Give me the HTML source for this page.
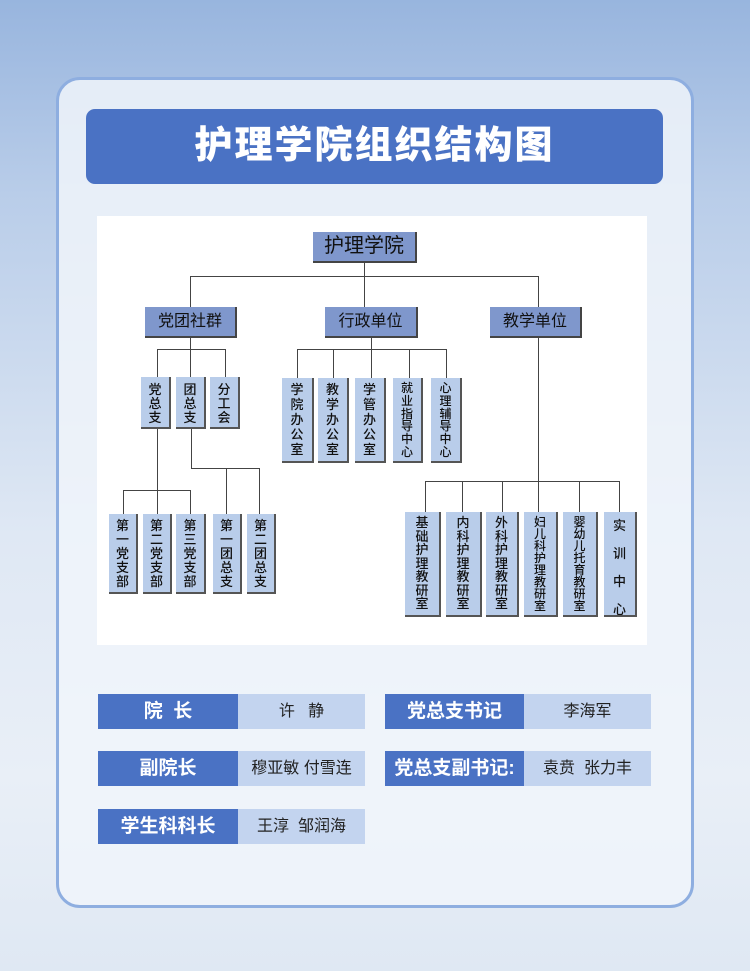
<!DOCTYPE html>
<html><head><meta charset="utf-8"><style>
*{margin:0;padding:0;box-sizing:border-box}
body{width:750px;height:971px;position:relative;overflow:hidden;font-family:"Liberation Sans","Noto Sans CJK SC",sans-serif;background:linear-gradient(180deg,#98b5de 0%,#b9cde9 20%,#dfe8f4 55%,#e9eff7 80%,#dfe8f3 100%)}
.card{position:absolute;left:56px;top:77px;width:638px;height:831px;border:3px solid #8eaee0;border-radius:24px;background:rgba(240,244,250,0.85)}
.title{position:absolute;left:86px;top:109px;width:577px;height:75px;background:#4a72c4;border-radius:9px;color:#fff;font-size:38px;font-weight:900;text-align:center;line-height:75px;letter-spacing:2px}
.panel{position:absolute;left:97px;top:216px;width:550px;height:429px;background:#fff}
.b{position:absolute;background:#b9cdea;border-right:2px solid #555;border-bottom:2px solid #555;color:#111;font-size:13px;text-align:center;line-height:14px;padding-top:4px;font-weight:500}
.d{position:absolute;background:#7f97cc;border-right:2px solid #444;border-bottom:2px solid #444;color:#111;text-align:center;font-size:16px}
.h{position:absolute;height:1px;background:#444}
.v{position:absolute;width:1px;background:#444}
.lab{position:absolute;background:#4a72c4;color:#fff;font-weight:bold;font-size:19px;text-align:center}
.val{position:absolute;background:#c3d4ef;color:#222;font-size:16px;text-align:center}
</style></head><body>
<div class="card"></div>
<div class="title">护理学院组织结构图</div>
<div class="panel"></div>

<div class="d" style="left:313px;top:232px;width:104px;height:31px;font-size:20px;line-height:29px">护理学院</div>
<div class="v" style="left:364px;top:263px;height:44px"></div>
<div class="h" style="left:190px;top:276px;width:349px"></div>
<div class="v" style="left:190px;top:276px;height:31px"></div>
<div class="v" style="left:538px;top:276px;height:31px"></div>
<div class="d" style="left:145px;top:307px;width:92px;height:31px;line-height:29px">党团社群</div>
<div class="d" style="left:325px;top:307px;width:93px;height:31px;line-height:29px">行政单位</div>
<div class="d" style="left:490px;top:307px;width:92px;height:31px;line-height:29px">教学单位</div>

<div class="v" style="left:190px;top:338px;height:39px"></div>
<div class="h" style="left:157px;top:349px;width:69px"></div>
<div class="v" style="left:157px;top:349px;height:28px"></div>
<div class="v" style="left:225px;top:349px;height:28px"></div>
<div class="b" style="left:141px;top:377px;width:30px;height:52px;padding-top:6px">党<br>总<br>支</div>
<div class="b" style="left:176px;top:377px;width:30px;height:52px;padding-top:6px">团<br>总<br>支</div>
<div class="b" style="left:210px;top:377px;width:30px;height:52px;padding-top:6px">分<br>工<br>会</div>

<div class="v" style="left:371px;top:338px;height:40px"></div>
<div class="h" style="left:297px;top:349px;width:150px"></div>
<div class="v" style="left:297px;top:349px;height:29px"></div>
<div class="v" style="left:333px;top:349px;height:29px"></div>
<div class="v" style="left:409px;top:349px;height:29px"></div>
<div class="v" style="left:446px;top:349px;height:29px"></div>
<div class="b" style="left:282px;top:378px;width:32px;height:85px;line-height:15px">学<br>院<br>办<br>公<br>室</div>
<div class="b" style="left:318px;top:378px;width:31px;height:85px;line-height:15px">教<br>学<br>办<br>公<br>室</div>
<div class="b" style="left:355px;top:378px;width:31px;height:85px;line-height:15px">学<br>管<br>办<br>公<br>室</div>
<div class="b" style="left:393px;top:378px;width:30px;height:85px;line-height:12.8px;font-size:12px">就<br>业<br>指<br>导<br>中<br>心</div>
<div class="b" style="left:431px;top:378px;width:31px;height:85px;line-height:12.8px;font-size:12px">心<br>理<br>辅<br>导<br>中<br>心</div>

<div class="v" style="left:157px;top:429px;height:85px"></div>
<div class="h" style="left:123px;top:490px;width:68px"></div>
<div class="v" style="left:123px;top:490px;height:24px"></div>
<div class="v" style="left:190px;top:490px;height:24px"></div>
<div class="v" style="left:191px;top:429px;height:39px"></div>
<div class="h" style="left:191px;top:468px;width:69px"></div>
<div class="v" style="left:226px;top:468px;height:46px"></div>
<div class="v" style="left:259px;top:468px;height:46px"></div>
<div class="b" style="left:109px;top:514px;width:29px;height:80px;padding-top:5px">第<br>一<br>党<br>支<br>部</div>
<div class="b" style="left:143px;top:514px;width:29px;height:80px;padding-top:5px">第<br>二<br>党<br>支<br>部</div>
<div class="b" style="left:176px;top:514px;width:30px;height:80px;padding-top:5px">第<br>三<br>党<br>支<br>部</div>
<div class="b" style="left:213px;top:514px;width:29px;height:80px;padding-top:5px">第<br>一<br>团<br>总<br>支</div>
<div class="b" style="left:247px;top:514px;width:29px;height:80px;padding-top:5px">第<br>二<br>团<br>总<br>支</div>

<div class="v" style="left:538px;top:338px;height:174px"></div>
<div class="h" style="left:425px;top:481px;width:195px"></div>
<div class="v" style="left:425px;top:481px;height:31px"></div>
<div class="v" style="left:462px;top:481px;height:31px"></div>
<div class="v" style="left:502px;top:481px;height:31px"></div>
<div class="v" style="left:579px;top:481px;height:31px"></div>
<div class="v" style="left:619px;top:481px;height:31px"></div>
<div class="b" style="left:405px;top:512px;width:36px;height:105px;line-height:13.5px">基<br>础<br>护<br>理<br>教<br>研<br>室</div>
<div class="b" style="left:446px;top:512px;width:36px;height:105px;line-height:13.5px">内<br>科<br>护<br>理<br>教<br>研<br>室</div>
<div class="b" style="left:486px;top:512px;width:33px;height:105px;line-height:13.5px">外<br>科<br>护<br>理<br>教<br>研<br>室</div>
<div class="b" style="left:524px;top:512px;width:34px;height:105px;line-height:12px;font-size:12px">妇<br>儿<br>科<br>护<br>理<br>教<br>研<br>室</div>
<div class="b" style="left:563px;top:512px;width:35px;height:105px;line-height:12px;font-size:12px">婴<br>幼<br>儿<br>托<br>育<br>教<br>研<br>室</div>
<div class="b" style="left:604px;top:512px;width:33px;height:105px;line-height:28px;padding-top:0">实<br>训<br>中<br>心</div>

<div class="lab" style="left:98px;top:694px;width:140px;height:35px;line-height:35px">院&nbsp;&nbsp;长</div>
<div class="val" style="left:238px;top:694px;width:127px;height:35px;line-height:35px">许&nbsp;&nbsp;&nbsp;静</div>
<div class="lab" style="left:385px;top:694px;width:139px;height:35px;line-height:35px">党总支书记</div>
<div class="val" style="left:524px;top:694px;width:127px;height:35px;line-height:35px">李海军</div>
<div class="lab" style="left:98px;top:751px;width:140px;height:35px;line-height:35px">副院长</div>
<div class="val" style="left:238px;top:751px;width:127px;height:35px;line-height:35px">穆亚敏&nbsp;付雪连</div>
<div class="lab" style="left:385px;top:751px;width:139px;height:35px;line-height:35px">党总支副书记:</div>
<div class="val" style="left:524px;top:751px;width:127px;height:35px;line-height:35px">袁贲&nbsp;&nbsp;张力丰</div>
<div class="lab" style="left:98px;top:809px;width:140px;height:35px;line-height:35px">学生科科长</div>
<div class="val" style="left:238px;top:809px;width:127px;height:35px;line-height:35px">王淳&nbsp;&nbsp;邹润海</div>
</body></html>
